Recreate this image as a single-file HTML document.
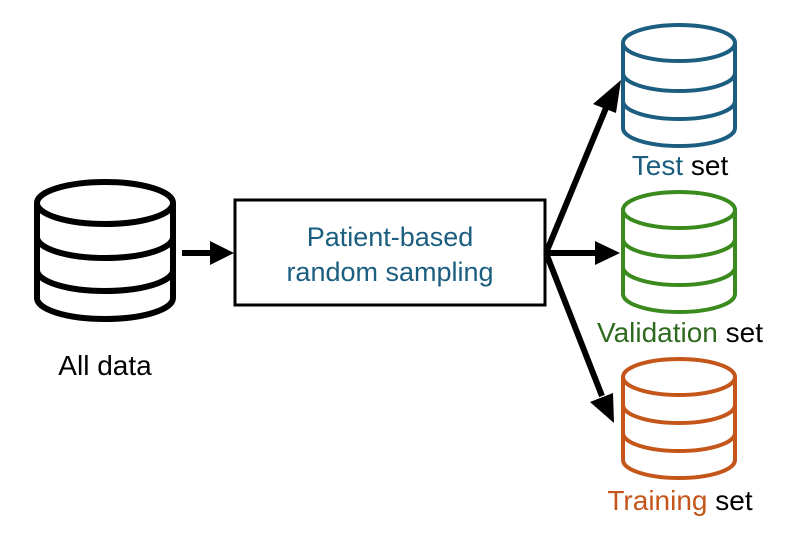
<!DOCTYPE html>
<html><head><style>body{margin:0;background:#fff}svg{display:block}text{font-family:"Liberation Sans",sans-serif}</style></head><body>
<svg width="785" height="534" viewBox="0 0 785 534" xmlns="http://www.w3.org/2000/svg">
<!-- All data db -->
<g fill="none" stroke="#000" stroke-width="6">
<ellipse cx="105" cy="203" rx="68" ry="21"/>
<path d="M37 203 V298 A68 21 0 0 0 173 298 V203"/>
<path d="M37 237 A68 21 0 0 0 173 237"/>
<path d="M37 270 A68 21 0 0 0 173 270"/>
</g>
<!-- Test db -->
<g fill="none" stroke="#1b5e80" stroke-width="4">
<ellipse cx="679" cy="43" rx="56" ry="18"/>
<path d="M623 43 V128 A56 18 0 0 0 735 128 V43"/>
<path d="M623 73 A56 18 0 0 0 735 73"/>
<path d="M623 101 A56 18 0 0 0 735 101"/>
</g>
<!-- Validation db -->
<g fill="none" stroke="#3b8a1e" stroke-width="4">
<ellipse cx="679" cy="210" rx="56" ry="18"/>
<path d="M623 210 V294 A56 18 0 0 0 735 294 V210"/>
<path d="M623 239 A56 18 0 0 0 735 239"/>
<path d="M623 267 A56 18 0 0 0 735 267"/>
</g>
<!-- Training db -->
<g fill="none" stroke="#c4561a" stroke-width="4">
<ellipse cx="679" cy="377" rx="56" ry="18"/>
<path d="M623 377 V460 A56 18 0 0 0 735 460 V377"/>
<path d="M623 405 A56 18 0 0 0 735 405"/>
<path d="M623 433 A56 18 0 0 0 735 433"/>
</g>
<!-- box -->
<rect x="235" y="200" width="310" height="105" fill="none" stroke="#000" stroke-width="3"/>
<text x="390" y="246" font-size="27" fill="#1b5e80" text-anchor="middle">Patient-based</text>
<text x="390" y="281" font-size="27" fill="#1b5e80" text-anchor="middle">random sampling</text>
<!-- arrows -->
<g stroke="#000" stroke-width="6" fill="none">
<line x1="182" y1="253" x2="212" y2="253"/>
<line x1="546" y1="253" x2="600" y2="253"/>
<line x1="546" y1="253" x2="606" y2="108"/>
<line x1="546" y1="253" x2="602" y2="396"/>
</g>
<g fill="#000">
<polygon points="234,253 210,241 210,265"/>
<polygon points="620,253 595,241 595,265"/>
<polygon points="621,80 593,104 616,113"/>
<polygon points="614,423 590,402 613,393"/>
</g>
<!-- labels -->
<text x="105" y="375" font-size="28" fill="#000" text-anchor="middle">All data</text>
<text x="680" y="175" font-size="28" text-anchor="middle"><tspan fill="#1b5e80">Test</tspan><tspan fill="#000"> set</tspan></text>
<text x="680" y="342" font-size="28" text-anchor="middle"><tspan fill="#2f6a1e">Validation</tspan><tspan fill="#000"> set</tspan></text>
<text x="680" y="510" font-size="28" text-anchor="middle"><tspan fill="#c4561a">Training</tspan><tspan fill="#000"> set</tspan></text>
</svg>
</body></html>
